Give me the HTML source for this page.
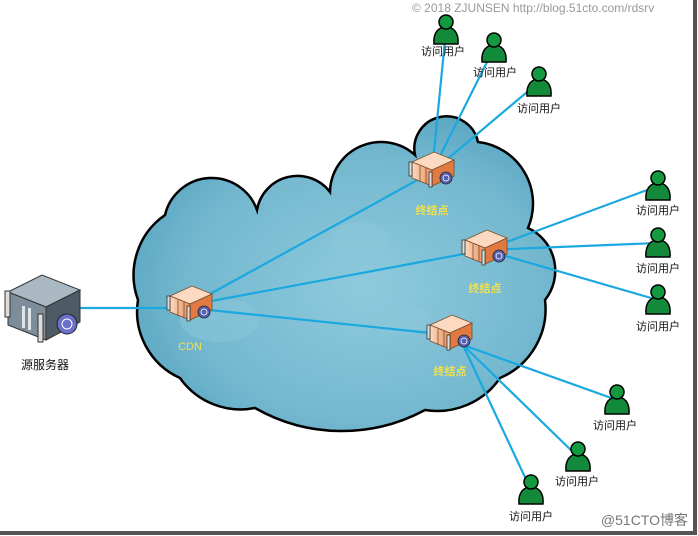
<!DOCTYPE html>
<html><head><meta charset="utf-8"><style>
html,body{margin:0;padding:0;background:#fff;}
svg{display:block;}
text{font-family:"Liberation Sans","Noto Sans CJK SC",sans-serif;}
</style></head><body>
<svg width="698" height="536" viewBox="0 0 698 536" xmlns="http://www.w3.org/2000/svg">
<defs>
<radialGradient id="cg" cx="55%" cy="55%" r="60%">
<stop offset="0" stop-color="#8fcadc"/><stop offset="0.7" stop-color="#74b8cf"/><stop offset="1" stop-color="#5aa6c2"/>
</radialGradient>
<linearGradient id="og" x1="0" y1="0" x2="1" y2="0">
<stop offset="0" stop-color="#fbd9bf"/><stop offset="1" stop-color="#e8905e"/>
</linearGradient>
<g id="srv">
<polygon points="-20,-6 2,-16 22,-8 0,2" fill="#fcd9c0" stroke="#7a4a2a" stroke-width="0.8"/>
<polygon points="-20,-6 0,2 0,18 -20,10" fill="url(#og)" stroke="#7a4a2a" stroke-width="0.8"/>
<polygon points="0,2 22,-8 22,8 0,18" fill="#e07a40" stroke="#7a4a2a" stroke-width="0.8"/>
<line x1="-12" y1="-2" x2="-12" y2="14" stroke="#7a4a2a" stroke-width="0.8"/>
<line x1="-6" y1="0" x2="-6" y2="16" stroke="#7a4a2a" stroke-width="0.8"/>
<rect x="-23" y="-6" width="3" height="14" fill="#ddd" stroke="#333" stroke-width="0.8"/>
<rect x="-3" y="4" width="3" height="15" fill="#ddd" stroke="#333" stroke-width="0.8"/>
<circle cx="14" cy="10" r="6" fill="#5560b0" stroke="#222" stroke-width="0.8"/>
<circle cx="14" cy="10" r="3" fill="none" stroke="#fff" stroke-width="0.8"/>
</g>
<g id="usr">
<path d="M-12,14 C-13,2 -7,-3 0,-3 C7,-3 13,2 12,14 Z" fill="#138a3a" stroke="#000" stroke-width="1.5"/>
<circle cx="0" cy="-8" r="7" fill="#139a40" stroke="#000" stroke-width="1.5"/>
</g>
</defs>

<rect x="693" y="0" width="4" height="534" fill="#555"/>
<rect x="0" y="531" width="697" height="4" fill="#555"/>

<path d="M138,300 A73,73 0 0 1 165,215 A48,48 0 0 1 257,210 A41,41 0 0 1 330,192 A51,51 0 0 1 415,155 A32,32 0 0 1 478,142 A62,62 0 0 1 528,228 A47,47 0 0 1 545,300 A75,75 0 0 1 500,378 A76,76 0 0 1 425,410 A175,175 0 0 1 255,408 A74,74 0 0 1 180,378 A73,73 0 0 1 138,300 Z" fill="url(#cg)" stroke="#000" stroke-width="2.5"/>
<g fill="#8cc8da" opacity="0.5">
<ellipse cx="400" cy="320" rx="30" ry="15"/>
<ellipse cx="220" cy="320" rx="40" ry="22"/>
<ellipse cx="360" cy="240" rx="30" ry="18"/>
</g>

<g stroke="#19a8e0" stroke-width="2.2">
<line x1="80" y1="308" x2="190" y2="308"/>
<line x1="190" y1="305" x2="432" y2="172"/>
<line x1="190" y1="305" x2="485" y2="250"/>
<line x1="190" y1="308" x2="450" y2="335"/>
<line x1="432" y1="172" x2="446" y2="30"/>
<line x1="432" y1="172" x2="494" y2="48"/>
<line x1="432" y1="172" x2="539" y2="82"/>
<line x1="485" y1="250" x2="658" y2="186"/>
<line x1="485" y1="250" x2="658" y2="243"/>
<line x1="485" y1="250" x2="658" y2="300"/>
<line x1="463" y1="345" x2="617" y2="400"/>
<line x1="463" y1="345" x2="578" y2="457"/>
<line x1="463" y1="345" x2="531" y2="490"/>
</g>

<g>
<polygon points="8,292 42,275 80,290 46,307" fill="#aab8c2" stroke="#333" stroke-width="1"/>
<polygon points="8,292 46,307 46,340 8,325" fill="#7d8e9a" stroke="#333" stroke-width="1"/>
<polygon points="46,307 80,290 80,322 46,340" fill="#4c5b66" stroke="#333" stroke-width="1"/>
<rect x="5" y="291" width="5" height="26" fill="#ddd" stroke="#333"/>
<rect x="38" y="314" width="5" height="28" fill="#ddd" stroke="#333"/>
<rect x="22" y="306" width="3" height="22" fill="#dfe6ea"/>
<rect x="28" y="308" width="3" height="22" fill="#dfe6ea"/>
<circle cx="67" cy="324" r="10" fill="#6a70c8" stroke="#222"/>
<circle cx="67" cy="324" r="5" fill="none" stroke="#fff"/>
</g>
<text x="45" y="369" font-size="12" text-anchor="middle" fill="#111">源服务器</text>

<use href="#srv" x="190" y="302"/>
<use href="#srv" x="432" y="168"/>
<use href="#srv" x="485" y="246"/>
<use href="#srv" x="450" y="331"/>

<g fill="#f3e04a" font-size="11" text-anchor="middle" font-weight="bold">
<text x="190" y="350" font-family="Liberation Serif,serif" font-weight="normal">CDN</text>
<text x="432" y="214">终结点</text>
<text x="485" y="292">终结点</text>
<text x="450" y="375">终结点</text>
</g>

<use href="#usr" x="446" y="30"/>
<use href="#usr" x="494" y="48"/>
<use href="#usr" x="539" y="82"/>
<use href="#usr" x="658" y="186"/>
<use href="#usr" x="658" y="243"/>
<use href="#usr" x="658" y="300"/>
<use href="#usr" x="617" y="400"/>
<use href="#usr" x="578" y="457"/>
<use href="#usr" x="531" y="490"/>

<g font-size="11" text-anchor="middle" fill="#111">
<text x="443" y="55">访问用户</text>
<text x="495" y="76">访问用户</text>
<text x="539" y="112">访问用户</text>
<text x="658" y="214">访问用户</text>
<text x="658" y="272">访问用户</text>
<text x="658" y="330">访问用户</text>
<text x="615" y="429">访问用户</text>
<text x="577" y="485">访问用户</text>
<text x="531" y="520">访问用户</text>
</g>

<text x="412" y="12" font-size="12" fill="#999">© 2018 ZJUNSEN http://blog.51cto.com/rdsrv</text>
<text x="688" y="525" font-size="14" fill="#777" text-anchor="end">@51CTO博客</text>
</svg>
</body></html>
